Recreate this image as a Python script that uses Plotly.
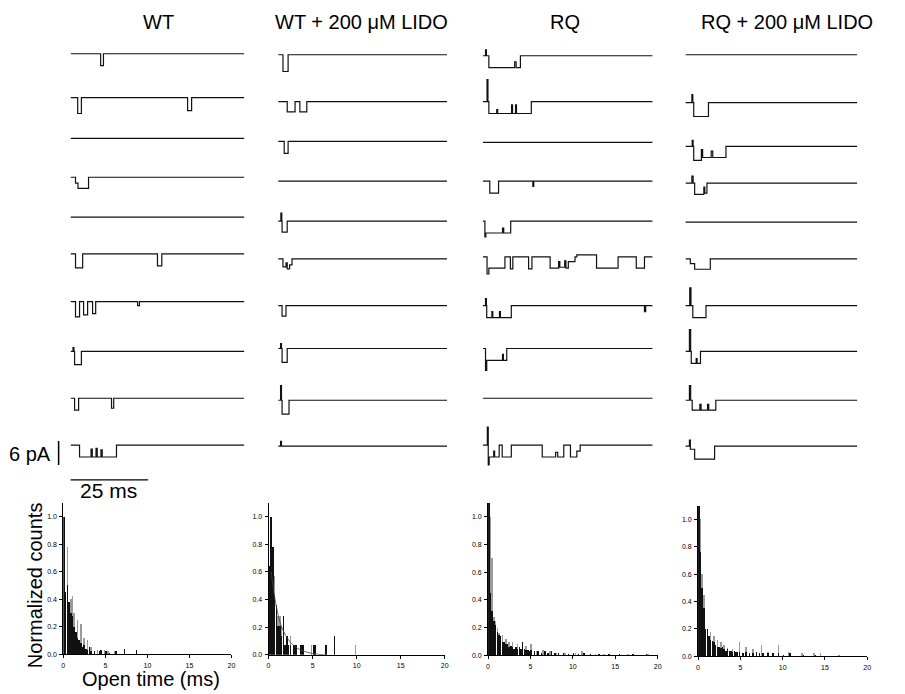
import plotly.graph_objects as go

W, H = 905, 694


def fx(px):
    return px / W


def fy(px):
    return 1 - px / H


# ------------------------------------------------------------------ data
COLUMN_TITLES = ["WT", "WT + 200 μM LIDO", "RQ", "RQ + 200 μM LIDO"]
SWEEP_MS = 56          # length of each sweep shown (ms)
SCALE_PA = 6           # vertical scale bar (pA)
SCALE_MS = 25          # horizontal scale bar (ms)

# single-channel sweeps: each event = (start ms, end ms, current pA); negative = opening
WT_SWEEPS = [
    [(9.7, 10.6, -3.0)],
    [(2.3, 3.5, -4.0), (37.7, 39.0, -3.3)],
    [],
    [(1.6, 2.4, -1.5), (2.4, 5.8, -2.8)],
    [],
    [(1.6, 3.9, -3.5), (28.0, 29.4, -3.0)],
    [(1.6, 2.9, -3.8), (4.2, 5.5, -3.3), (7.1, 8.1, -3.0), (21.6, 22.2, -1.0)],
    [(0.8, 1.1, 1.0), (1.3, 3.5, -3.3)],
    [(1.3, 2.6, -3.0), (13.2, 13.9, -2.5)],
    [(2.9, 6.6, -3.0), (6.6, 7.0, -1.0), (7.0, 8.2, -3.0), (8.2, 8.6, -0.8),
     (8.6, 9.8, -3.0), (9.8, 10.2, -1.2), (10.2, 14.8, -3.0)],
]
WT_LIDO_SWEEPS = [
    [(1.6, 3.3, -4.2)],
    [(3.0, 5.6, -2.6), (7.2, 9.5, -2.6)],
    [(2.0, 3.3, -3.0)],
    [],
    [(0.9, 1.2, 2.0), (1.3, 3.0, -2.8)],
    [(1.6, 2.6, -2.0), (2.6, 3.0, -1.0), (3.0, 3.8, -2.5), (3.8, 4.6, -1.5)],
    [(1.3, 2.6, -2.6)],
    [(0.8, 1.1, 1.2), (1.3, 3.0, -3.5)],
    [(0.8, 1.1, 3.7), (1.3, 3.6, -3.5)],
    [(0.8, 1.1, 1.2)],
]
RQ_SWEEPS = [
    [(0.9, 1.2, 1.5), (2.0, 10.5, -3.0), (10.5, 11.0, -1.5), (11.0, 12.4, -3.0)],
    [(1.4, 1.7, 5.5), (2.0, 4.6, -3.0), (4.6, 4.9, -2.0), (4.9, 9.5, -3.0),
     (9.5, 9.8, -0.8), (9.8, 10.8, -3.0), (10.8, 11.1, -0.8), (11.1, 16.0, -3.0)],
    [],
    [(2.3, 5.2, -3.0), (16.5, 16.8, -1.3)],
    [(0.7, 1.0, -4.0), (1.0, 6.5, -3.0), (6.5, 6.9, -1.8), (6.9, 9.2, -3.0)],
    [(1.4, 2.0, -4.3), (2.0, 7.3, -2.8), (9.1, 9.9, -3.0), (15.1, 16.2, -3.0),
     (22.2, 25.0, -2.8), (25.0, 25.4, -1.2), (25.4, 27.0, -2.6), (27.0, 27.4, -1.0),
     (27.4, 28.2, -2.8), (28.2, 30.4, -1.2), (31.0, 37.5, 0.5), (37.5, 44.6, -2.8),
     (50.6, 53.3, -2.8)],
    [(0.9, 1.2, 1.8), (1.3, 3.0, -3.0), (3.0, 3.3, -1.5), (3.3, 5.5, -3.0),
     (5.5, 5.8, -1.5), (5.8, 9.4, -3.0), (53.3, 53.7, -1.5)],
    [(0.9, 1.3, -5.5), (1.3, 6.5, -3.0), (6.5, 6.8, -1.5), (6.8, 7.9, -3.0)],
    [],
    [(1.5, 1.8, 4.5), (1.8, 2.1, -5.0), (2.1, 3.6, -3.0), (3.6, 3.9, -1.5),
     (3.9, 5.4, -3.0), (6.4, 9.4, -3.0), (19.6, 24.0, -3.0), (24.0, 24.7, -1.8),
     (24.7, 26.7, -3.0), (28.9, 31.0, -3.0), (31.0, 32.1, -1.5)],
]
RQ_LIDO_SWEEPS = [
    [],
    [(2.1, 2.4, 2.0), (2.7, 7.5, -3.5)],
    [(2.2, 2.5, 1.5), (2.7, 5.2, -3.5), (5.2, 5.6, -0.8), (5.6, 8.4, -2.8),
     (8.4, 8.9, -1.2), (8.9, 13.2, -2.8)],
    [(2.1, 2.5, 1.8), (3.0, 6.0, -2.8), (6.0, 6.3, -1.0), (6.3, 7.0, -2.5)],
    [],
    [(1.6, 3.0, -1.2), (3.0, 8.1, -2.6)],
    [(1.4, 1.8, 4.5), (2.4, 6.7, -3.0)],
    [(1.3, 1.7, 5.5), (1.9, 3.5, -3.0), (3.5, 3.8, -1.8), (3.8, 4.9, -3.0)],
    [(1.3, 1.7, 3.7), (2.2, 4.7, -2.5), (4.7, 5.1, -1.0), (5.1, 7.2, -2.5),
     (7.2, 7.6, -1.0), (7.6, 9.9, -2.5)],
    [(1.3, 1.6, 1.5), (1.6, 3.0, -0.8), (3.0, 9.5, -3.3)],
]
ALL_SWEEPS = [WT_SWEEPS, WT_LIDO_SWEEPS, RQ_SWEEPS, RQ_LIDO_SWEEPS]

# open-time histograms: bin start (ms) and normalized counts
BIN_MS = 0.2
WT_BLACK_T = [0.0, 0.2, 0.4, 0.6, 0.8, 1.0, 1.2, 1.4, 1.6, 1.8, 2.0, 2.2, 2.4, 2.6, 2.8,
              3.0, 3.2, 3.6, 4.2, 4.4, 5.0, 5.4, 6.2, 7.2, 8.6]
WT_BLACK_N = [1.0, 0.45, 0.5, 0.38, 0.3, 0.28, 0.2, 0.16, 0.12, 0.1, 0.08, 0.05, 0.07, 0.04, 0.03,
              0.05, 0.02, 0.02, 0.02, 0.03, 0.02, 0.01, 0.02, 0.04, 0.03]
WT_GRAY_T = [0.4, 0.8, 1.0, 1.2, 1.6, 2.0, 2.4, 2.8, 3.2, 4.0, 4.4, 4.8, 5.2, 6.0]
WT_GRAY_N = [0.78, 0.4, 0.42, 0.3, 0.25, 0.22, 0.12, 0.1, 0.05, 0.03, 0.03, 0.03, 0.02, 0.02]

WTL_BLACK_T = [0.0, 0.2, 0.4, 0.6, 0.8, 1.0, 1.2, 1.4, 1.6, 1.8, 2.0, 2.2, 2.4, 2.8, 3.0,
               3.6, 3.8, 5.0, 5.2, 6.4, 7.4]
WTL_BLACK_N = [0.64, 1.0, 0.78, 0.43, 0.36, 0.21, 0.21, 0.14, 0.28, 0.07, 0.14, 0.07, 0.07, 0.07, 0.07,
               0.07, 0.07, 0.07, 0.07, 0.07, 0.14]
WTL_GRAY_T = [0.4, 0.6, 0.8, 1.0, 1.2, 1.4, 2.4, 4.8, 9.8]
WTL_GRAY_N = [0.5, 0.57, 0.14, 0.28, 0.28, 0.21, 0.14, 0.07, 0.07]
WTL_FIT_T = [0.3, 0.8, 1.5, 2.5, 3.5, 5.0, 6.5]
WTL_FIT_N = [0.6, 0.38, 0.2, 0.09, 0.04, 0.01, 0.0]

RQ_BLACK_T = [0.0, 0.2, 0.4, 0.6, 0.8, 1.0, 1.2, 1.4, 1.6, 1.8, 2.0, 2.2, 2.4, 2.6, 2.8, 3.0,
              3.2, 3.4, 3.6, 3.8, 4.0, 4.2, 4.4, 4.6, 4.8, 5.0, 5.4, 5.8, 6.2, 6.6, 7.0, 7.4,
              7.8, 8.2, 8.8, 9.4, 10.0, 10.6, 11.2, 12.0, 13.0, 14.2, 15.4, 17.0, 18.6]
RQ_BLACK_N = [1.1, 0.45, 0.32, 0.25, 0.22, 0.17, 0.15, 0.14, 0.1, 0.1, 0.08, 0.08, 0.06, 0.07, 0.06,
              0.05, 0.06, 0.05, 0.06, 0.05, 0.1, 0.05, 0.04, 0.04, 0.03, 0.04, 0.03, 0.03, 0.02, 0.03,
              0.02, 0.03, 0.02, 0.02, 0.02, 0.01, 0.02, 0.01, 0.02, 0.01, 0.01, 0.01, 0.01, 0.01, 0.01]
RQ_GRAY_T = [0.2, 0.4, 0.6, 0.8, 1.0, 1.2, 1.6, 2.0, 2.4, 2.8, 3.4, 4.4, 5.0, 5.6, 6.4, 7.2, 8.0,
             9.0, 10.2, 11.0, 12.6, 13.6, 16.4, 18.8]
RQ_GRAY_N = [1.0, 0.7, 0.28, 0.25, 0.2, 0.16, 0.15, 0.12, 0.1, 0.1, 0.08, 0.07, 0.08, 0.03, 0.04,
             0.03, 0.02, 0.02, 0.02, 0.03, 0.01, 0.01, 0.01, 0.01]

RQL_BLACK_T = [0.0, 0.2, 0.4, 0.6, 0.8, 1.0, 1.2, 1.4, 1.6, 1.8, 2.0, 2.2, 2.4, 2.6, 2.8, 3.0,
               3.2, 3.4, 3.6, 3.8, 4.0, 4.2, 4.4, 4.6, 4.8, 5.2, 5.6, 6.0, 6.4, 6.8, 7.2, 7.6,
               8.2, 8.8, 9.4, 10.0, 10.8, 12.4, 13.8]
RQL_BLACK_N = [1.1, 0.76, 0.5, 0.35, 0.2, 0.2, 0.15, 0.12, 0.11, 0.1, 0.08, 0.07, 0.07, 0.06, 0.07,
               0.05, 0.04, 0.05, 0.04, 0.04, 0.03, 0.04, 0.03, 0.03, 0.03, 0.02, 0.03, 0.02, 0.02,
               0.03, 0.02, 0.02, 0.02, 0.02, 0.02, 0.01, 0.02, 0.01, 0.01]
RQL_GRAY_T = [0.2, 0.4, 0.6, 0.8, 1.0, 1.4, 1.8, 2.2, 2.6, 3.0, 3.4, 4.0, 4.8, 5.6, 6.4, 7.4, 8.2,
              9.4, 10.6, 12.2, 13.6, 14.4, 16.6]
RQL_GRAY_N = [1.0, 0.6, 0.45, 0.2, 0.2, 0.18, 0.15, 0.12, 0.1, 0.08, 0.06, 0.05, 0.1, 0.07, 0.05,
              0.08, 0.03, 0.08, 0.03, 0.02, 0.02, 0.02, 0.01]

HISTS = [
    (WT_BLACK_T, WT_BLACK_N, WT_GRAY_T, WT_GRAY_N),
    (WTL_BLACK_T, WTL_BLACK_N, WTL_GRAY_T, WTL_GRAY_N),
    (RQ_BLACK_T, RQ_BLACK_N, RQ_GRAY_T, RQ_GRAY_N),
    (RQL_BLACK_T, RQL_BLACK_N, RQL_GRAY_T, RQL_GRAY_N),
]
X_TICKS = [0, 5, 10, 15, 20]
Y_TICKS = [0.0, 0.2, 0.4, 0.6, 0.8, 1.0]

# ------------------------------------------------------------------ layout constants (pixels)
COL_X0 = [69, 278, 484, 688]
COL_W = [175, 170, 171, 173]
ROW_BASE_PX = [
    [54, 98, 139, 178, 218, 255, 303, 353, 400, 447],
    [55, 102, 142, 182, 222, 260, 307, 350, 402, 448],
    [56, 102, 143, 182, 222, 258, 307, 350, 400, 447],
    [55, 103, 147, 184, 223, 260, 307, 353, 402, 448],
]
TR_TOP, TR_BOT = 30, 480
PX_PER_PA = 4.0
TITLE_X = [158, 362, 567, 790]
HIST_BOX = [  # x0, x1, ytop, ybottom (px)
    (61.7, 231.0, 505.0, 657.0),
    (268.3, 445.7, 505.0, 657.7),
    (489.3, 660.0, 505.0, 658.3),
    (700.7, 871.0, 508.0, 659.0),
]

FONT = "Liberation Sans, Arial, sans-serif"


def sweep_xy(events, base):
    xs, ys = [0], [base]
    for i, (a, b, amp) in enumerate(events):
        xs += [a, a, b]
        ys += [ys[-1], base + amp, base + amp]
        nxt = events[i + 1][0] if i + 1 < len(events) else None
        if nxt is None or nxt > b + 1e-6:
            xs.append(b)
            ys.append(base)
    xs.append(SWEEP_MS)
    ys.append(base)
    return xs, ys


fig = go.Figure()
layout = {}

# ---- sweeps
for c in range(4):
    k = c + 1
    xa, ya = ("x" if k == 1 else f"x{k}"), ("y" if k == 1 else f"y{k}")
    layout["xaxis" if k == 1 else f"xaxis{k}"] = dict(
        domain=[fx(COL_X0[c]), fx(COL_X0[c] + COL_W[c])], range=[0, SWEEP_MS],
        visible=False, anchor=ya)
    layout["yaxis" if k == 1 else f"yaxis{k}"] = dict(
        domain=[fy(TR_BOT), fy(TR_TOP)], range=[0, (TR_BOT - TR_TOP) / PX_PER_PA],
        visible=False, anchor=xa)
    for r, events in enumerate(ALL_SWEEPS[c]):
        base = (TR_BOT - ROW_BASE_PX[c][r]) / PX_PER_PA
        xs, ys = sweep_xy(events, base)
        fig.add_trace(go.Scatter(x=xs, y=ys, mode="lines", xaxis=xa, yaxis=ya,
                                 line=dict(color="#111111", width=1.2),
                                 hoverinfo="skip", showlegend=False))

# ---- scale bars (own axis with the same ms / pA scale as column 1)
SB_X0, SB_X1, SB_Y0, SB_Y1 = 50, 160, 430, 490
px_per_ms = COL_W[0] / SWEEP_MS
layout["xaxis5"] = dict(domain=[fx(SB_X0), fx(SB_X1)],
                        range=[(SB_X0 - COL_X0[0]) / px_per_ms, (SB_X1 - COL_X0[0]) / px_per_ms],
                        visible=False, anchor="y5")
layout["yaxis5"] = dict(domain=[fy(SB_Y1), fy(SB_Y0)], range=[0, (SB_Y1 - SB_Y0) / PX_PER_PA],
                        visible=False, anchor="x5")
vbar_x = (57 - COL_X0[0]) / px_per_ms
vbar_y0 = (SB_Y1 - 467) / PX_PER_PA
hbar_y = (SB_Y1 - 482) / PX_PER_PA
fig.add_trace(go.Scatter(x=[vbar_x, vbar_x], y=[vbar_y0, vbar_y0 + SCALE_PA], mode="lines",
                         xaxis="x5", yaxis="y5", line=dict(color="black", width=1.5),
                         hoverinfo="skip", showlegend=False))
fig.add_trace(go.Scatter(x=[0, SCALE_MS], y=[hbar_y, hbar_y], mode="lines",
                         xaxis="x5", yaxis="y5", line=dict(color="black", width=1.2),
                         hoverinfo="skip", showlegend=False))

# ---- histograms
for h in range(4):
    k = h + 6
    xa, ya = f"x{k}", f"y{k}"
    x0, x1, yt, yb = HIST_BOX[h]
    axis_common = dict(showline=True, linecolor="black", linewidth=1, ticks="outside",
                       ticklen=3, tickwidth=1, tickcolor="black", showgrid=False,
                       zeroline=False, tickfont=dict(family="Liberation Sans, Arial", size=7,
                                                     color="black"))
    layout[f"xaxis{k}"] = dict(domain=[fx(x0), fx(x1)], range=[0, 20], tickvals=X_TICKS,
                               anchor=ya, ticklabelstandoff=1, **axis_common)
    layout[f"yaxis{k}"] = dict(domain=[fy(yb), fy(yt)], range=[0, 1.1], tickvals=Y_TICKS,
                               tickformat=".1f", anchor=xa, ticklabelstandoff=1, **axis_common)
    bt, bn, gt, gn = HISTS[h]
    fig.add_trace(go.Bar(x=gt, y=gn, width=BIN_MS * 0.9, offset=0, xaxis=xa, yaxis=ya,
                         marker=dict(color="#9a9a9a", line=dict(width=0)),
                         hoverinfo="skip", showlegend=False))
    fig.add_trace(go.Bar(x=bt, y=bn, width=BIN_MS * 0.9, offset=0, xaxis=xa, yaxis=ya,
                         marker=dict(color="#111111", line=dict(width=0)),
                         hoverinfo="skip", showlegend=False))
    if h == 1:
        fig.add_trace(go.Scatter(x=WTL_FIT_T, y=WTL_FIT_N, mode="lines", xaxis=xa, yaxis=ya,
                                 line=dict(color="#444444", width=0.8, shape="spline"),
                                 hoverinfo="skip", showlegend=False))

# ---- text
ann = []
for c, t in enumerate(COLUMN_TITLES):
    ann.append(dict(text=t, x=fx(TITLE_X[c]), y=fy(22), xref="paper", yref="paper",
                    showarrow=False, xanchor="center", yanchor="middle",
                    font=dict(family=FONT, size=20, color="black")))
ann.append(dict(text="6 pA", x=fx(51), y=fy(456), xref="paper", yref="paper", showarrow=False,
                xanchor="right", yanchor="middle", font=dict(family=FONT, size=20, color="black")))
ann.append(dict(text="25 ms", x=fx(107), y=fy(493), xref="paper", yref="paper", showarrow=False,
                xanchor="center", yanchor="middle", font=dict(family=FONT, size=21, color="black")))
ann.append(dict(text="Normalized counts", x=fx(34), y=fy(588), xref="paper", yref="paper",
                showarrow=False, textangle=-90, xanchor="center", yanchor="middle",
                font=dict(family=FONT, size=20, color="black")))
ann.append(dict(text="Open time (ms)", x=fx(150), y=fy(682), xref="paper", yref="paper",
                showarrow=False, xanchor="center", yanchor="middle",
                font=dict(family=FONT, size=20, color="black")))

fig.update_layout(width=W, height=H, margin=dict(l=0, r=0, t=0, b=0),
                  paper_bgcolor="white", plot_bgcolor="rgba(0,0,0,0)",
                  barmode="overlay", bargap=0, annotations=ann, **layout)

fig.write_html("out.html", config={"displayModeBar": False, "staticPlot": True},
               post_script="document.body.style.margin='0';document.body.style.overflow='hidden';")
